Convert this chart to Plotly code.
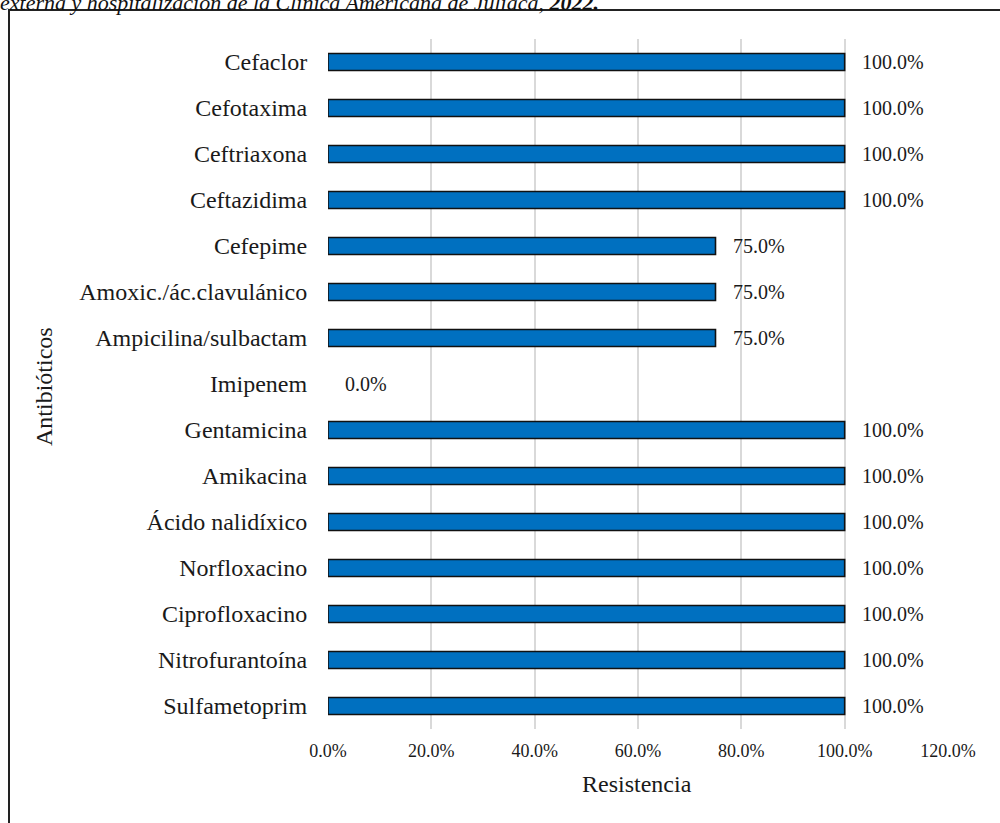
import plotly.graph_objects as go

categories = ["Cefaclor", "Cefotaxima", "Ceftriaxona", "Ceftazidima", "Cefepime",
              "Amoxic./ác.clavulánico", "Ampicilina/sulbactam", "Imipenem",
              "Gentamicina", "Amikacina", "Ácido nalidíxico", "Norfloxacino",
              "Ciprofloxacino", "Nitrofurantoína", "Sulfametoprim"]
resistance = [100.0, 100.0, 100.0, 100.0, 75.0, 75.0, 75.0, 0.0,
              100.0, 100.0, 100.0, 100.0, 100.0, 100.0, 100.0]
tick_vals = [0, 20, 40, 60, 80, 100, 120]
tick_text = ["0.0%", "20.0%", "40.0%", "60.0%", "80.0%", "100.0%", "120.0%"]
title_text = "externa y hospitalización de la Clínica Americana de Juliaca, <b>2022.</b>"

FONT = "Liberation Serif"
INK = "#1a1a1a"
W, H = 1000, 823
L, R, T, B = 328, 52, 39, 94
PW, PH = W - L - R, H - T - B

def px_x(x):
    return (x - L) / PW

def px_y(y):
    return (H - B - y) / PH

fig = go.Figure(go.Bar(
    x=resistance,
    y=categories,
    orientation="h",
    marker=dict(color="#0070C0",
                line=dict(color="#111111", width=[1.6 if v > 0 else 0 for v in resistance])),
    hoverinfo="x+y",
))

annotations = [dict(text=f"{v:.1f}%", x=v, y=c, xref="x", yref="y",
                    xanchor="left", yanchor="middle", xshift=15, showarrow=False,
                    font=dict(family=FONT, size=20, color=INK))
               for c, v in zip(categories, resistance)]

annotations += [
    dict(text=f"<i>{title_text}</i>", xref="paper", yref="paper",
         x=px_x(-2), y=px_y(17), xanchor="left", yanchor="bottom",
         showarrow=False, font=dict(family=FONT, size=22, color="#111111")),
    dict(text="Resistencia", xref="paper", yref="paper",
         x=px_x(637), y=px_y(784), xanchor="center", yanchor="middle",
         showarrow=False, font=dict(family=FONT, size=24, color=INK)),
    dict(text="Antibióticos", xref="paper", yref="paper", textangle=-90,
         x=px_x(44), y=px_y(387), xanchor="center", yanchor="middle",
         showarrow=False, font=dict(family=FONT, size=24, color=INK)),
]

fig.update_layout(
    width=W, height=H,
    margin=dict(l=L, r=R, t=T, b=B),
    paper_bgcolor="white", plot_bgcolor="white",
    showlegend=False,
    bargap=0.63,
    font=dict(family=FONT, color=INK),
    xaxis=dict(
        range=[0, 120], tickvals=tick_vals, ticktext=tick_text,
        tickfont=dict(family=FONT, size=18, color=INK),
        showgrid=True, gridcolor="#d9d9d9", gridwidth=1.5,
        zeroline=False, showline=False,
        ticks="outside", ticklen=5, tickcolor="rgba(0,0,0,0)",
    ),
    yaxis=dict(
        categoryorder="array", categoryarray=categories[::-1],
        tickfont=dict(family=FONT, size=24, color=INK),
        showgrid=False, zeroline=False, showline=False,
        ticks="outside", ticklen=15, tickcolor="rgba(0,0,0,0)",
    ),
    shapes=[dict(type="rect", xref="paper", yref="paper",
                 x0=px_x(9), x1=px_x(1010), y0=px_y(10), y1=px_y(840),
                 line=dict(color="#222222", width=2), fillcolor="rgba(0,0,0,0)", layer="below")],
    annotations=annotations,
)

fig.write_html("out.html")
